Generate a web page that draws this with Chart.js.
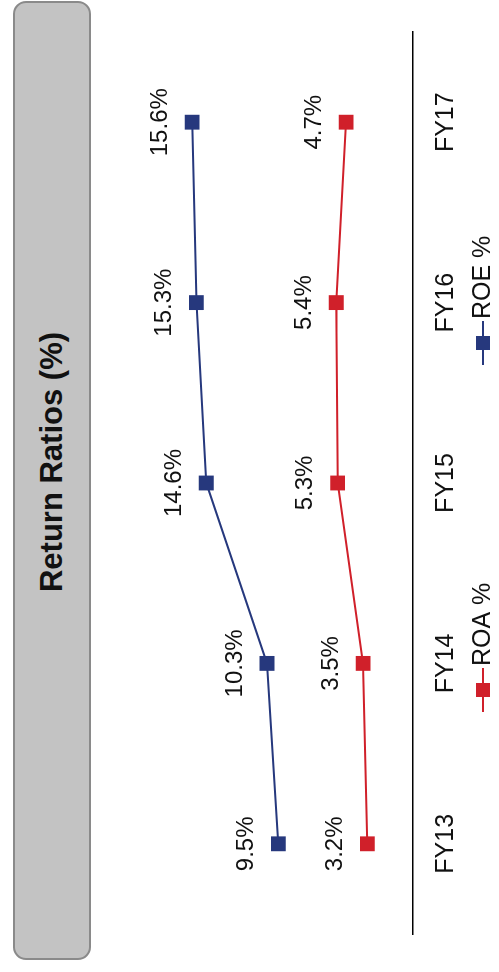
<!DOCTYPE html>
<html>
<head>
<meta charset="utf-8">
<script src="https://cdn.jsdelivr.net/npm/chart.js@4.4.0/dist/chart.umd.min.js"></script>
<style>
body{margin:0;background:#fff;overflow:hidden;width:499px;height:972px;position:relative;font-family:"Liberation Sans",Arial,sans-serif}
#titlebox{position:absolute;left:13px;top:1px;width:78px;height:959px;box-sizing:border-box;background:#c3c3c3;border:2px solid #8a8a8a;border-radius:13px}
#title{position:absolute;left:52px;top:462px;transform:translate(-50%,-50%) rotate(-90deg);white-space:nowrap;font-weight:bold;font-size:31px;color:#111}
#wrap{position:absolute;left:100px;top:0;width:972px;height:399px;transform-origin:0 0;transform:translate(0,972px) rotate(-90deg)}
</style>
</head>
<body>
<div id="titlebox"></div>
<div id="title">Return Ratios (%)</div>
<div id="wrap"><canvas id="chart" width="972" height="399"></canvas></div>
<script>
const years = ["FY13","FY14","FY15","FY16","FY17"]
const roa = [3.2,3.5,5.3,5.4,4.7]
const roe = [9.5,10.3,14.6,15.3,15.6]

const navy = "#26387d"
const red = "#d0202a"
const font = "'Liberation Sans', Arial, sans-serif"

// value labels above each point
const valueLabels = {
id:"valueLabels",
afterDatasetsDraw(chart){
const ctx = chart.ctx
ctx.save()
ctx.font = "24px " + font
ctx.fillStyle = "#111"
ctx.textAlign = "center"
ctx.textBaseline = "middle"
chart.data.datasets.forEach((ds,i)=>{
chart.getDatasetMeta(i).data.forEach((pt,j)=>{
ctx.fillText(ds.data[j].toFixed(1)+"%", pt.x, pt.y-32)
})
})
ctx.restore()
}
}

// excel style legend: line with square marker, then name
const lineLegend = {
id:"lineLegend",
afterDraw(chart){
const ctx = chart.ctx
const pos = [282,629]
const y = 383
ctx.save()
ctx.font = "25px " + font
ctx.textBaseline = "middle"
ctx.textAlign = "left"
chart.data.datasets.forEach((ds,i)=>{
const cx = pos[i]
ctx.strokeStyle = ds.borderColor
ctx.lineWidth = 2
ctx.beginPath()
ctx.moveTo(cx-22,y)
ctx.lineTo(cx+22,y)
ctx.stroke()
ctx.fillStyle = ds.borderColor
ctx.fillRect(cx-7,y-7,14,14)
ctx.fillStyle = "#111"
ctx.fillText(ds.label, cx+24, y)
})
ctx.restore()
}
}

new Chart(document.getElementById("chart"),{
type:"line",
data:{
labels:years,
datasets:[
{label:"ROA %",data:roa,borderColor:red,backgroundColor:red,borderWidth:2,pointStyle:"rect",pointRadius:10.5,pointBorderWidth:0,tension:0},
{label:"ROE %",data:roe,borderColor:navy,backgroundColor:navy,borderWidth:2,pointStyle:"rect",pointRadius:10.5,pointBorderWidth:0,tension:0}
]
},
options:{
responsive:false,
animation:false,
layout:{padding:{left:38,right:32,top:30,bottom:0}},
plugins:{legend:{display:false},tooltip:{enabled:false},title:{display:false}},
scales:{
x:{
offset:true,
grid:{display:false,drawTicks:false},
border:{display:true,color:"#000",width:1.5},
ticks:{padding:19,maxRotation:0,color:"#111",font:{size:25,family:font}},
afterFit(s){s.height=86.5}
},
y:{display:false,min:0,max:20}
}
},
plugins:[valueLabels,lineLegend]
})
</script>
</body>
</html>
